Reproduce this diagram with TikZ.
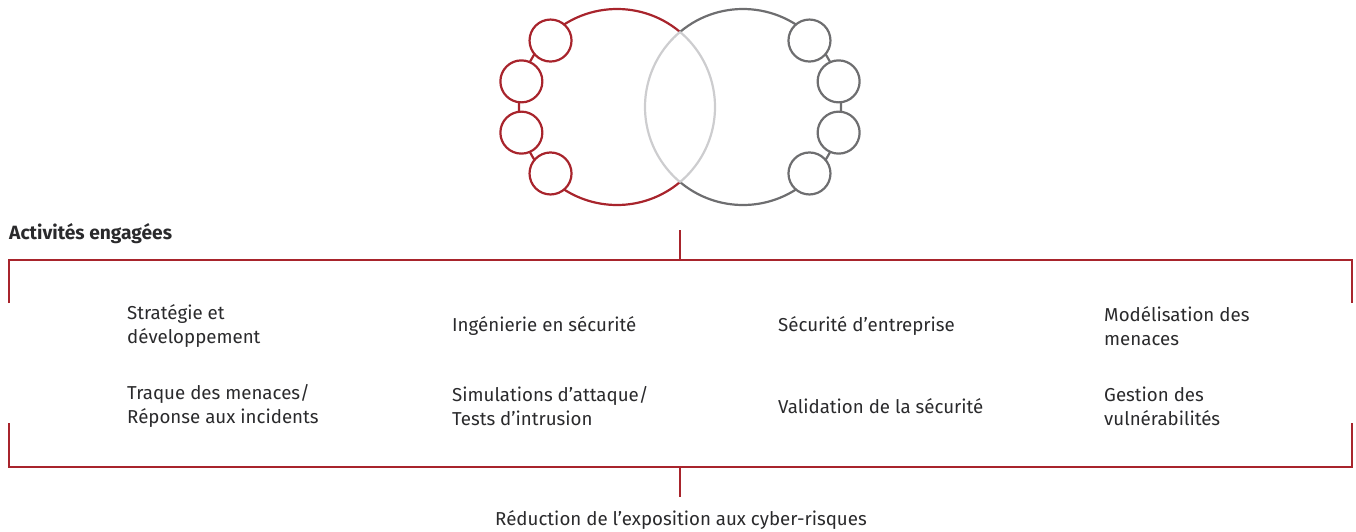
\documentclass[tikz,border=0pt]{standalone}
\usepackage{fontspec}
\setmainfont{Fira Sans}
\usetikzlibrary{positioning,calc}
\definecolor{cyred}{HTML}{A8242C}
\definecolor{cygray}{HTML}{6E6E70}
\definecolor{cylens}{HTML}{CDCDCF}
\definecolor{cytext}{HTML}{2A2A2C}
\tikzstyle{redline}=[draw=cyred,line width=2.2pt]
\tikzstyle{grayline}=[draw=cygray,line width=2.2pt]
\tikzstyle{lensline}=[draw=cylens,line width=2.2pt]
\tikzstyle{redring}=[circle,draw=cyred,line width=2.2pt,fill=white,minimum size=42pt,inner sep=0pt]
\tikzstyle{grayring}=[circle,draw=cygray,line width=2.2pt,fill=white,minimum size=42pt,inner sep=0pt]
\tikzstyle{activity}=[anchor=west,align=left,text=cytext,inner sep=0pt,font=\fontsize{18.7}{24}\selectfont]

\begin{document}
\begin{tikzpicture}[x=1pt,y=-1pt]
  \useasboundingbox (0,0) rectangle (1356,531);
  \coordinate (lc) at (617,107);
  \coordinate (rc) at (743,107);
  \draw[redline] ([shift={(310:98)}]lc) arc[start angle=310,end angle=50,radius=98];
  \draw[grayline] ([shift={(230:98)}]rc) arc[start angle=-130,end angle=130,radius=98];
  \draw[lensline] ([shift={(-50:98)}]lc) arc[start angle=-50,end angle=50,radius=98];
  \draw[lensline] ([shift={(130:98)}]rc) arc[start angle=130,end angle=230,radius=98];
  \foreach \a/\r/\n in {225/94/1,195/99/2,165/99/3,135/94/4}
    \node[redring] (lr\n) at ([shift={(\a:\r)}]lc) {};
  \foreach \a/\r/\n in {-45/94/1,-15/99/2,15/99/3,45/94/4}
    \node[grayring] (rr\n) at ([shift={(\a:\r)}]rc) {};

  \node[activity,font=\fontsize{19.2}{24}\selectfont\bfseries] (title) at (9,234) {Activités engagées};

  \coordinate (hubtop) at (680,230);
  \coordinate (hubbot) at (680,497);
  \coordinate (tl) at (9,303);
  \coordinate (tr) at (1352,303);
  \coordinate (bl) at (9,423);
  \coordinate (br) at (1352,423);
  \draw[redline] (tl) |- (680,260) -| (tr);
  \draw[redline] (hubtop) -- (680,260);
  \draw[redline] (bl) |- (680,467) -| (br);
  \draw[redline] (680,467) -- (hubbot);

  \node[activity] (strat) at (127,326) {Stratégie et\\développement};
  \node[activity] (ing) at (452,326) {Ingénierie en sécurité};
  \node[activity] (entr) at (778,326) {Sécurité d’entreprise};
  \node[activity] (mod) at (1104,326) {Modélisation des\\menaces};
  \node[activity] (traq) at (127,406) {Traque des menaces/\\Réponse aux incidents};
  \node[activity] (simu) at (452,406) {Simulations d’attaque/\\Tests d’intrusion};
  \node[activity] (valid) at (778,406) {Validation de la sécurité};
  \node[activity] (vuln) at (1104,406) {Gestion des\\vulnérabilités};

  \node[activity,anchor=center] (reduc) at (681,520) {Réduction de l’exposition aux cyber-risques};
\end{tikzpicture}
\end{document}
